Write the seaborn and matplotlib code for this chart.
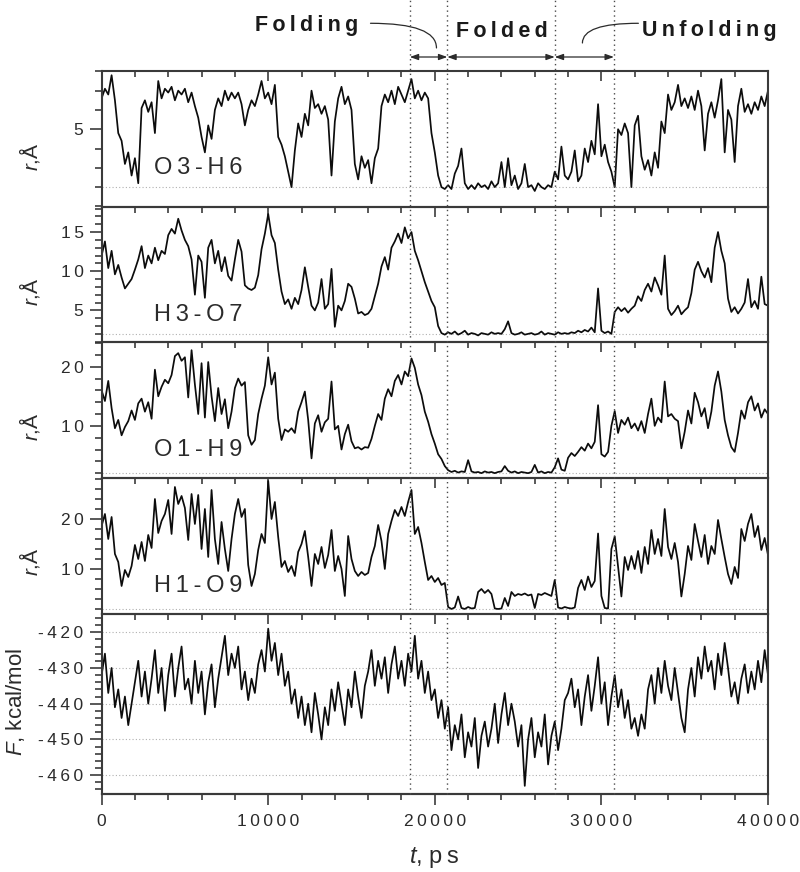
import numpy as np
import matplotlib
matplotlib.use('Agg')
import matplotlib.pyplot as plt
import matplotlib.transforms as mtransforms
from matplotlib.lines import Line2D
from matplotlib.ticker import MultipleLocator, FixedLocator, FuncFormatter
import seaborn as sns

# one reading every 200 ps, 0 .. 40000 ps
t_step = 200
t = np.arange(0, 40000 + t_step, t_step)

# O3-H6 distance, A
o3_h6 = [
    6.6, 7.1, 6.8, 7.8, 6.5, 4.8, 4.4, 3.2, 3.8, 2.6, 3.5, 2.2, 6.1, 6.5, 5.9, 6.4, 4.8, 7.5, 6.6, 7.1,
    6.9, 7.2, 6.5, 7.0, 6.8, 7.1, 6.4, 6.9, 6.2, 5.6, 4.6, 3.8, 5.2, 4.5, 6.0, 6.6, 6.2, 7.0, 6.5, 6.9,
    6.6, 6.9, 6.3, 5.2, 6.0, 6.5, 6.2, 6.8, 7.5, 6.6, 6.9, 6.3, 7.3, 4.6, 4.2, 3.6, 2.8, 2.0, 3.9, 5.3,
    4.6, 5.8, 5.2, 7.0, 6.1, 6.3, 5.8, 6.2, 5.5, 2.6, 5.4, 6.6, 7.2, 6.3, 6.7, 6.0, 3.2, 2.4, 3.6, 3.0,
    3.4, 2.2, 3.5, 4.0, 6.2, 6.8, 6.4, 7.0, 6.3, 7.2, 6.8, 6.4, 7.0, 7.6, 6.6, 7.0, 6.5, 6.9, 6.6, 4.8,
    3.8, 2.6, 2.0, 1.9, 2.1, 1.9, 2.7, 3.1, 4.0, 2.2, 1.9, 2.1, 1.9, 2.2, 2.0, 2.1, 1.9, 2.3, 2.0, 2.2,
    3.3, 2.0, 3.5, 2.1, 2.6, 1.9, 2.2, 3.2, 2.0, 2.1, 1.8, 2.2, 2.0, 1.9, 2.1, 2.0, 2.8, 2.4, 4.1, 2.6,
    2.4, 2.8, 3.9, 2.3, 2.6, 4.0, 3.3, 4.4, 3.7, 6.3, 3.6, 4.2, 3.3, 2.8, 2.0, 5.0, 4.7, 5.3, 4.8, 2.0,
    5.2, 5.7, 3.6, 2.9, 3.4, 2.6, 3.8, 3.0, 5.4, 4.8, 6.8, 6.0, 6.4, 7.3, 6.2, 6.6, 6.1, 6.7, 6.0, 7.0,
    6.2, 3.9, 5.8, 6.4, 5.6, 6.5, 7.6, 3.8, 6.0, 5.5, 3.3, 6.2, 7.1, 5.9, 6.3, 5.8, 6.4, 6.0, 6.7, 6.2,
    7.0,
]

# H3-O7 distance, A
h3_o7 = [
    12.0, 13.8, 10.4, 12.6, 9.6, 10.8, 9.2, 7.8, 8.4, 9.0, 10.2, 11.5, 13.2, 10.4, 12.0, 11.0, 13.0, 11.4, 12.6, 12.2,
    14.6, 15.4, 14.8, 16.7, 15.2, 14.0, 13.2, 11.5, 7.0, 12.0, 11.2, 6.6, 13.0, 14.0, 11.0, 12.6, 10.0, 11.8, 9.4, 8.8,
    11.5, 14.0, 12.5, 8.2, 7.8, 7.6, 7.9, 9.5, 12.8, 14.8, 17.3, 14.6, 13.6, 10.2, 7.4, 5.8, 6.4, 5.2, 6.6, 5.8,
    7.6, 10.5, 8.0, 5.6, 5.0, 6.0, 9.0, 5.2, 5.8, 10.3, 2.9, 5.6, 5.0, 6.2, 8.4, 8.0, 6.5, 4.6, 4.8, 4.4,
    4.6, 5.2, 6.8, 8.4, 10.6, 11.8, 10.2, 13.0, 13.8, 14.8, 13.6, 15.6, 14.2, 15.0, 12.6, 11.4, 10.0, 8.6, 7.4, 6.2,
    5.4, 3.0, 2.1, 1.9, 2.2, 2.0, 2.3, 1.9, 2.1, 2.4, 1.9, 2.1, 2.0, 1.8, 2.1, 2.0, 1.9, 2.2, 2.0, 2.1,
    2.0, 2.6, 3.6, 2.1, 1.9, 2.0, 2.2, 1.9, 2.0, 2.1, 1.9, 2.0, 2.3, 1.9, 2.1, 2.0, 1.9, 2.2, 2.0, 2.1,
    2.0, 2.2, 2.1, 2.4, 2.2, 2.5, 2.3, 2.8, 2.2, 7.8, 2.4, 2.1, 2.3, 2.0, 4.8, 5.4, 4.9, 5.3, 4.7, 5.2,
    5.6, 6.8, 6.2, 7.6, 8.4, 7.4, 9.2, 8.2, 7.0, 12.0, 5.2, 4.4, 4.9, 5.6, 4.5, 5.0, 5.4, 7.2, 10.2, 11.2,
    10.0, 9.2, 10.4, 8.6, 13.0, 15.0, 12.6, 11.0, 6.5, 4.8, 5.4, 4.6, 5.2, 6.0, 9.0, 5.4, 6.2, 5.2, 9.3, 5.8,
    5.6,
]

# O1-H9 distance, A
o1_h9 = [
    16.0, 14.2, 17.6, 13.0, 9.6, 11.0, 8.4, 9.8, 10.8, 12.6, 11.0, 13.8, 14.6, 12.4, 14.0, 11.2, 19.5, 15.0, 16.6, 17.8,
    17.2, 18.6, 21.8, 22.3, 21.0, 21.6, 14.8, 22.8, 17.0, 12.0, 20.6, 11.4, 20.8, 15.0, 10.8, 16.4, 12.0, 14.5, 9.6, 12.4,
    16.4, 18.0, 16.8, 17.4, 8.4, 6.8, 7.6, 12.0, 14.6, 16.8, 21.6, 17.0, 19.0, 11.2, 7.6, 9.4, 9.0, 9.6, 8.8, 12.4,
    14.0, 15.8, 11.0, 4.5, 10.4, 11.8, 9.0, 10.6, 11.2, 17.5, 9.4, 10.0, 6.0, 8.6, 10.2, 7.4, 6.2, 6.4, 6.0, 6.4,
    6.3, 7.8, 10.0, 12.0, 11.0, 14.6, 16.2, 15.0, 17.6, 18.6, 17.0, 19.2, 18.4, 21.4, 19.8, 17.0, 15.2, 12.4, 10.7, 8.6,
    7.0, 5.2, 4.4, 3.2, 2.5, 2.2, 2.4, 2.1, 2.3, 2.2, 4.2, 2.3, 2.1, 2.2, 2.0, 2.3, 2.1, 2.2, 2.0, 2.2,
    2.3, 3.2, 2.4, 2.1, 2.3, 2.0, 2.2, 2.1, 2.0, 2.2, 3.4, 2.1, 2.3, 2.0, 2.2, 2.1, 3.0, 4.5, 2.6, 2.4,
    4.6, 5.4, 4.9, 5.6, 6.4, 5.8, 7.0, 6.2, 7.3, 13.5, 5.2, 4.8, 5.6, 10.0, 12.5, 8.8, 11.0, 10.2, 11.4, 9.6,
    10.4, 9.2, 10.8, 8.8, 12.0, 14.6, 10.0, 11.4, 10.6, 17.5, 11.6, 12.0, 11.2, 10.8, 6.2, 9.0, 12.6, 10.4, 15.6, 14.0,
    11.6, 13.0, 9.6, 12.4, 16.8, 19.2, 15.8, 11.0, 8.4, 6.4, 5.6, 8.8, 12.6, 11.2, 14.0, 15.0, 12.6, 13.8, 11.4, 12.8,
    12.0,
]

# H1-O9 distance, A
h1_o9 = [
    18.6, 21.0, 16.0, 20.4, 13.0, 11.4, 6.6, 9.8, 8.4, 10.6, 14.8, 12.0, 15.4, 11.6, 16.8, 14.2, 24.0, 17.2, 19.6, 21.0,
    23.8, 17.0, 26.4, 23.0, 24.6, 22.2, 15.8, 25.0, 19.0, 24.8, 14.0, 22.0, 12.4, 25.8, 16.0, 11.0, 19.4, 14.0, 9.6, 16.0,
    21.0, 24.0, 20.4, 22.0, 10.8, 6.6, 9.0, 13.8, 17.0, 15.2, 27.6, 20.0, 23.4, 16.4, 10.4, 11.6, 9.4, 10.6, 8.6, 13.4,
    15.0, 17.6, 12.4, 6.6, 13.0, 11.0, 14.4, 10.2, 12.8, 17.8, 9.6, 12.6, 10.0, 4.6, 16.6, 12.0, 9.6, 8.6, 9.4, 8.8,
    9.2, 12.4, 14.6, 18.8, 15.6, 10.0, 17.0, 19.6, 21.8, 20.6, 22.4, 20.6, 23.4, 25.8, 17.0, 18.4, 15.2, 11.4, 7.8, 8.6,
    7.4, 8.2, 6.8, 7.2, 2.4, 2.0, 2.3, 4.5, 2.2, 2.0, 2.4, 2.1, 2.2, 5.4, 6.0, 5.2, 5.8, 5.0, 2.1, 2.0,
    2.1, 4.2, 2.6, 5.4, 4.6, 5.0, 4.8, 5.1, 4.7, 4.9, 2.2, 5.0, 4.8, 5.2, 4.9, 4.6, 7.8, 2.3, 2.1, 2.4,
    2.2, 2.1, 2.3, 6.2, 7.8, 5.8, 8.5, 6.4, 7.6, 17.1, 4.6, 2.2, 2.1, 14.0, 16.5, 10.4, 4.5, 12.4, 9.8, 12.6,
    10.0, 13.6, 9.2, 14.4, 11.0, 17.8, 13.0, 16.0, 12.6, 22.0, 14.4, 12.0, 15.2, 11.4, 4.5, 9.0, 14.6, 11.8, 19.0, 15.6,
    12.4, 16.8, 11.0, 14.6, 13.0, 19.8, 16.0, 12.4, 9.0, 7.0, 10.4, 8.2, 18.0, 15.6, 19.0, 21.0, 16.4, 18.6, 13.8, 16.2,
    12.8,
]

# free energy F, kcal/mol
free_energy = [
    -432, -426, -437, -430, -441, -436, -444, -438, -446, -440, -434, -428, -438, -431, -440, -433, -425, -437, -430, -442,
    -432, -426, -438, -430, -424, -436, -433, -440, -428, -437, -431, -443, -434, -429, -441, -433, -427, -421, -432, -426,
    -430, -424, -436, -431, -439, -433, -437, -429, -425, -431, -419, -428, -423, -432, -426, -435, -431, -440, -436, -444,
    -438, -446, -440, -448, -437, -443, -450, -441, -446, -436, -442, -434, -440, -446, -436, -441, -431, -438, -444, -435,
    -431, -425, -435, -428, -433, -427, -437, -429, -424, -433, -428, -435, -426, -431, -421, -433, -428, -437, -431, -439,
    -436, -444, -439, -447, -441, -453, -446, -450, -443, -455, -448, -452, -444, -458, -449, -445, -452, -447, -440, -451,
    -443, -437, -446, -440, -445, -452, -446, -463, -450, -444, -455, -448, -452, -443, -457, -449, -445, -453, -447, -439,
    -437, -433, -441, -436, -446, -438, -432, -442, -435, -427, -440, -434, -446, -438, -432, -441, -436, -444, -439, -447,
    -444, -449, -443, -447, -436, -432, -440, -430, -437, -428, -435, -439, -430, -437, -444, -448, -436, -430, -438, -427,
    -433, -424, -431, -428, -436, -426, -432, -423, -430, -438, -434, -440, -433, -429, -437, -431, -436, -428, -434, -425,
    -432,
]

pair_labels = ['O3-H6', 'H3-O7', 'O1-H9', 'H1-O9']
region_edges = [18500, 20750, 27200, 30750]
region_names = ['Folding', 'Folded', 'Unfolding']
time_ticks = [0, 10000, 20000, 30000, 40000]

sns.set_style('ticks')
plt.rcParams['font.family'] = ['Liberation Sans', 'DejaVu Sans']
plt.rcParams['mathtext.fontset'] = 'custom'
plt.rcParams['mathtext.rm'] = 'Liberation Sans'
plt.rcParams['mathtext.it'] = 'Liberation Sans:italic'

ink = '#2b2b2b'
THIN = '\u2009'


def spaced(s):
    # the original lettering is widely tracked
    return THIN.join(s)


tick_fmt = FuncFormatter(lambda v, pos: spaced(f'{v:.0f}'))

fig = plt.figure(figsize=(8, 8.72), dpi=100)
gs = fig.add_gridspec(5, 1, height_ratios=[136, 135.5, 136, 135.5, 180.5], hspace=0,
                      left=0.127, right=0.96, bottom=0.0889, top=0.9186)
axes = [fig.add_subplot(gs[i]) for i in range(5)]

series = [o3_h6, h3_o7, o1_h9, h1_o9, free_energy]
ylims = [(0.97, 8.02), (0.9, 18.2), (1.1, 24.1), (1.0, 28.1), (-465.4, -414.9)]
majors = [5, 5, 10, 10, 10]
minors = [1, 1, 2, 2, 2]
ylab_y = [0.368, 0.373, 0.381, 0.386, 0.515]
pair_y = [0.283, 0.203, 0.21, 0.203]

for i, ax in enumerate(axes):
    ax.set_facecolor('none')
    sns.lineplot(x=t, y=np.array(series[i]), ax=ax, color='#0c0c0c', lw=1.25)
    ax.set_xlim(0, 40000)
    ax.set_ylim(*ylims[i])

    if i < 4:
        ax.axhline(2, color='#b0b0b0', lw=0.8, ls=(0, (1, 2)), zorder=0)
        ax.text(0.078, pair_y[i], spaced(pair_labels[i]), transform=ax.transAxes,
                ha='left', va='center', fontsize=17, color=ink)
        ax.set_ylabel(r'$r$,Å', fontsize=15, color=ink)
        ax.yaxis.set_label_coords(-0.09, ylab_y[i])
    else:
        for lev in [-420, -430, -440, -450, -460]:
            ax.axhline(lev, color='#b0b0b0', lw=0.8, ls=(0, (1, 2)), zorder=0)
        ax.set_ylabel(r'$F$, kcal/mol', fontsize=16, color=ink)
        ax.yaxis.set_label_coords(-0.112, ylab_y[i])

    ax.xaxis.set_major_locator(MultipleLocator(10000))
    ax.xaxis.set_minor_locator(MultipleLocator(2000))
    ax.yaxis.set_major_locator(MultipleLocator(majors[i]))
    ax.yaxis.set_minor_locator(MultipleLocator(minors[i]))
    ax.yaxis.set_major_formatter(tick_fmt)

    ax.tick_params(axis='x', which='both', direction='in', top=True, bottom=False,
                   labelbottom=False, color=ink)
    ax.tick_params(axis='x', which='major', length=7, width=1.1)
    ax.tick_params(axis='x', which='minor', length=4, width=1.1)
    ax.tick_params(axis='y', which='both', direction='out', left=True, right=False, color=ink)
    ax.tick_params(axis='y', which='major', length=9, width=1.1, labelsize=12.5, labelcolor=ink, pad=4)
    ax.tick_params(axis='y', which='minor', length=5, width=1.1)
    for sp in ax.spines.values():
        sp.set_visible(True)
        sp.set_color('#3a3a3a')
        sp.set_linewidth(1.5)

# bottom time axis with outward ticks
sec = axes[4].secondary_xaxis('bottom')
sec.xaxis.set_major_locator(FixedLocator(time_ticks))
sec.xaxis.set_minor_locator(FixedLocator(list(range(0, 40001, 2000))))
sec.xaxis.set_major_formatter(tick_fmt)
sec.tick_params(axis='x', which='both', direction='out', color=ink)
sec.tick_params(axis='x', which='major', length=8, width=1.1, labelsize=12.5, labelcolor=ink, pad=6)
sec.tick_params(axis='x', which='minor', length=4, width=1.1)
sec.spines['bottom'].set_color('#3a3a3a')
sec.spines['bottom'].set_linewidth(1.5)

fig.text(0.543, 0.0172, r'$t$, p' + THIN + 's', ha='center', va='center',
         fontsize=17, color=ink)

# transition regions marked across the whole stack
trans = mtransforms.blended_transform_factory(axes[0].transData, fig.transFigure)
for x in region_edges:
    fig.add_artist(Line2D([x, x], [0.0889, 1.0], transform=trans, color='#4a4a4a',
                          lw=1.0, ls=(0, (1, 2.5))))

arrow_y = 1 - 57 / 872
for a, b in zip(region_edges[:-1], region_edges[1:]):
    axes[0].annotate('', xy=(b, arrow_y), xytext=(a, arrow_y), xycoords=trans, textcoords=trans,
                     annotation_clip=False,
                     arrowprops=dict(arrowstyle='<|-|>,head_length=0.5,head_width=0.18',
                                     color=ink, lw=0.9, shrinkA=0, shrinkB=0))

name_x = [12300, 24030, 36500]
name_y = [0.9644, 0.958, 0.9587]
for name, nx, ny in zip(region_names, name_x, name_y):
    axes[0].text(nx, ny, spaced(name), transform=trans, ha='center', va='baseline',
                 fontsize=15.5, fontweight='bold', color='#1a1a1a')

# curved leaders from the labels to the arrows
axes[0].annotate('', xy=(20100, 0.945), xytext=(16140, 0.9733), xycoords=trans, textcoords=trans,
                 annotation_clip=False,
                 arrowprops=dict(arrowstyle='-', connectionstyle='angle3,angleA=0,angleB=90',
                                 color=ink, lw=0.9, shrinkA=0, shrinkB=0))
axes[0].annotate('', xy=(28860, 0.9507), xytext=(32220, 0.9733), xycoords=trans, textcoords=trans,
                 annotation_clip=False,
                 arrowprops=dict(arrowstyle='-', connectionstyle='angle3,angleA=0,angleB=90',
                                 color=ink, lw=0.9, shrinkA=0, shrinkB=0))

fig.savefig('out.png', dpi=100)
plt.close(fig)
